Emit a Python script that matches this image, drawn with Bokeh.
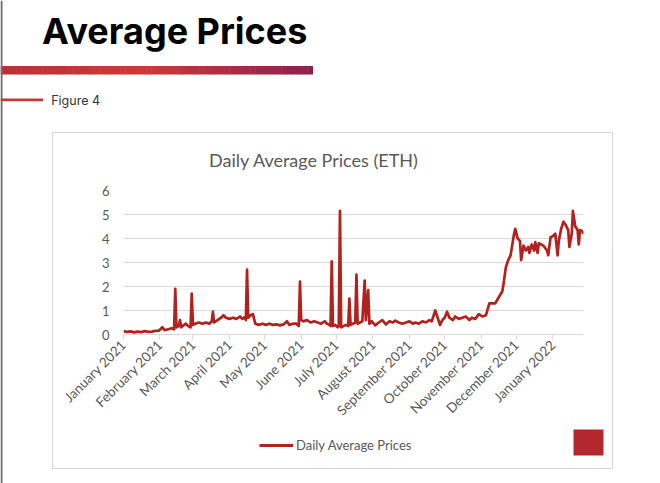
import math
from bokeh.plotting import figure
from bokeh.models import Range1d, Legend, LegendItem, FixedTicker, ColumnDataSource
from bokeh.core.properties import value
from bokeh.embed import file_html
from bokeh.resources import INLINE

# ---------------- data ----------------
# days since 1 January 2021
day_offsets = [
    0, 3, 6, 9, 12, 15, 18, 21, 24, 27, 30,
    33, 35, 38, 41, 43, 44, 45, 47, 48, 49, 51, 53, 55, 57, 58, 59, 61,
    64, 67, 70, 73, 75, 76, 77, 80, 83, 85, 87, 90,
    93, 96, 99, 101, 103, 104, 105, 106, 108, 110, 112, 115, 118,
    121, 124, 127, 130, 133, 136, 139, 141, 144, 147, 149, 150, 151, 153,
    156, 159, 162, 165, 168, 171, 173, 175, 176, 177, 178, 180, 182, 183, 184, 185,
    187, 189, 191, 192, 193, 195, 197, 198, 199, 201, 203, 205, 206, 208, 209, 211,
    214, 217, 220, 223, 226, 229, 231, 234, 237, 240, 243, 246, 248, 251, 254, 257, 260, 262,
    265, 267, 269, 271, 273, 275, 277, 280, 282, 285, 288, 291, 294, 296, 299, 302, 305, 308,
    311, 313, 316, 319, 322, 323, 325, 327, 329, 330, 332, 333, 335, 337, 338, 340, 342, 344,
    345, 347, 349, 350, 352, 353, 355, 357, 360, 361, 363, 365, 367, 369, 370, 372, 374, 376,
    378, 379, 381, 382, 384, 386, 387, 388, 390, 391,
]
avg_price_eth = [
    0.14, 0.11, 0.13, 0.09, 0.12, 0.10, 0.14, 0.11, 0.12, 0.15, 0.16,
    0.30, 0.18, 0.22, 0.26, 0.22, 1.90, 0.30, 0.35, 0.60, 0.30, 0.38, 0.45, 0.35, 0.30, 1.70, 0.40, 0.45,
    0.50, 0.45, 0.50, 0.45, 0.55, 0.95, 0.50, 0.60, 0.70, 0.80, 0.70, 0.65,
    0.70, 0.65, 0.75, 0.65, 0.72, 0.60, 2.70, 0.70, 0.80, 0.85, 0.45, 0.40, 0.45,
    0.40, 0.45, 0.40, 0.42, 0.38, 0.42, 0.55, 0.40, 0.45, 0.45, 0.35, 2.20, 0.60, 0.55,
    0.60, 0.50, 0.55, 0.50, 0.45, 0.55, 0.45, 0.40, 0.35, 3.05, 0.35, 0.40, 0.30, 0.35, 5.15, 0.30,
    0.35, 0.40, 0.35, 1.50, 0.40, 0.45, 0.50, 2.50, 0.45, 0.50, 0.55, 2.25, 0.60, 1.85, 0.45, 0.55,
    0.38, 0.50, 0.60, 0.42, 0.55, 0.50, 0.58, 0.50, 0.45, 0.50, 0.55, 0.45, 0.50, 0.45, 0.55, 0.50, 0.60, 0.55,
    1.00, 0.70, 0.40, 0.60, 0.70, 0.95, 0.70, 0.60, 0.75, 0.65, 0.70, 0.75, 0.60, 0.70, 0.65, 0.85, 0.75, 0.80,
    1.30, 1.30, 1.30, 1.55, 1.80, 2.10, 2.80, 3.10, 3.30, 3.60, 4.20, 4.40, 4.00, 3.90, 3.10, 3.70, 3.50, 3.65,
    3.40, 3.75, 3.50, 3.85, 3.40, 3.80, 3.75, 3.70, 3.50, 3.30, 4.05, 4.10, 4.20, 3.30, 3.90, 4.40, 4.70, 4.55,
    4.35, 3.65, 4.20, 5.15, 4.50, 4.35, 3.75, 4.35, 4.30, 4.20,
]
month_ticks = [0, 31, 59, 90, 120, 151, 181, 212, 243, 273, 304, 334, 365]
month_labels = ["January 2021", "February 2021", "March 2021", "April 2021", "May 2021",
                "June 2021", "July 2021", "August 2021", "September 2021", "October 2021",
                "November 2021", "December 2021", "January 2022"]
y_ticks = [0, 1, 2, 3, 4, 5, 6]
series_name = "Daily Average Prices"
chart_title = "Daily Average Prices (ETH)"
slide_title = "Average Prices"
figure_caption = "Figure 4"

GRAY = "#595959"
LIGHT = "#d9d9d9"
LINE_RED = "#b1221f"
W, H = 660, 483
PIN = {"position": "absolute", "top": "0px", "left": "0px"}

src = ColumnDataSource(data=dict(day=day_offsets, price=avg_price_eth))

# ---------------- slide layer (page pixel coordinates) ----------------
deco = figure(width=W, height=H, output_backend="svg", toolbar_location=None,
              x_range=Range1d(0, W), y_range=Range1d(H, 0),
              x_axis_location=None, y_axis_location=None, min_border=0)
deco.styles = dict(PIN)
deco.outline_line_color = None
deco.xgrid.grid_line_color = None
deco.ygrid.grid_line_color = None
deco.background_fill_color = "white"
deco.border_fill_color = "white"


def lerp(c1, c2, t):
    return tuple(round(a + (b - a) * t) for a, b in zip(c1, c2))


stops = [(0.0, (184, 49, 56)), (0.45, (205, 58, 54)), (1.0, (137, 34, 81))]
N = 60
x0, x1 = 0, 312
gl, gr, gc = [], [], []
for i in range(N):
    t = (i + 0.5) / N
    for (ta, ca), (tb, cb) in zip(stops[:-1], stops[1:]):
        if ta <= t <= tb:
            c = lerp(ca, cb, (t - ta) / (tb - ta))
            break
    gl.append(x0 + (x1 - x0) * i / N)
    gr.append(x0 + (x1 - x0) * (i + 1) / N + 0.5)
    gc.append("#%02x%02x%02x" % c)
deco.quad(left=gl, right=gr, top=65.5, bottom=74, fill_color=gc, line_color=None)
# left page edge line, caption rule, chart box, page marker
deco.quad(left=[0], right=[2], top=0, bottom=H, fill_color="#6b6b6b", line_color=None)
deco.quad(left=[0], right=[42.7], top=98, bottom=100.8, fill_color="#c23a3c", line_color=None)
deco.quad(left=[52], right=[612], top=132, bottom=468, fill_alpha=0,
          line_color=LIGHT, line_width=1.2)
deco.quad(left=[573], right=[603], top=429, bottom=455, fill_color="#b3282e", line_color=None)

deco.text(x=[41.5], y=[30], text=[slide_title], text_font=value("Inter"),
          text_font_style="bold", text_font_size=value("36px"), text_color="#000000",
          text_baseline="middle", text_align="left")
deco.text(x=[50.7], y=[99.5], text=[figure_caption], text_font=value("Inter"),
          text_font_size=value("12.5px"), text_color="#333333",
          text_baseline="middle", text_align="left")
deco.text(x=[313.5], y=[159], text=[chart_title], text_font=value("Lato"),
          text_font_size=value("18px"), text_color=GRAY,
          text_baseline="middle", text_align="center")

# legend: the swatch comes from a hidden copy of the series line on this layer
swatch = deco.line(x="day", y="price", source=src, line_color=LINE_RED, line_width=3,
                   visible=False)
legend = Legend(items=[LegendItem(label=series_name, renderers=[swatch])],
                location=(259, H - 439 - 14), orientation="horizontal",
                padding=0, margin=0, border_line_color=None, background_fill_alpha=0,
                glyph_width=34, glyph_height=14, label_height=14, label_standoff=3,
                label_text_font="Lato", label_text_font_size="13px",
                label_text_color=GRAY, click_policy="none")
deco.add_layout(legend)

# ---------------- chart layer (overlaid, transparent) ----------------
FL, FR, FT, FB = 123, 583, 190, 334   # plot frame on the page
p = figure(width=W, height=H, output_backend="svg", toolbar_location=None,
           x_range=Range1d(0, 391), y_range=Range1d(0, 6),
           min_border_left=FL, min_border_right=W - FR,
           min_border_top=FT, min_border_bottom=H - FB)
p.styles = dict(PIN)
p.outline_line_color = None
p.background_fill_alpha = 0
p.border_fill_alpha = 0

p.line(x="day", y="price", source=src, line_color=LINE_RED, line_width=2.7,
       line_join="round")

p.xaxis.ticker = FixedTicker(ticks=month_ticks)
p.xaxis.major_label_overrides = {t: l for t, l in zip(month_ticks, month_labels)}
p.xaxis.major_label_orientation = math.pi / 4
p.xaxis.axis_line_color = LIGHT
p.xaxis.major_tick_line_color = LIGHT
p.xaxis.major_tick_out = 5
p.xaxis.major_tick_in = 0
p.xaxis.minor_tick_line_color = None
p.xaxis.major_label_text_font = "Lato"
p.xaxis.major_label_text_font_size = "13.5px"
p.xaxis.major_label_text_color = GRAY
p.xaxis.major_label_standoff = 3

p.yaxis.ticker = FixedTicker(ticks=y_ticks)
p.yaxis.axis_line_color = None
p.yaxis.major_tick_line_color = None
p.yaxis.minor_tick_line_color = None
p.yaxis.major_tick_out = 0
p.yaxis.major_tick_in = 0
p.yaxis.major_label_text_font = "Lato"
p.yaxis.major_label_text_font_size = "13px"
p.yaxis.major_label_text_color = GRAY
p.yaxis.major_label_standoff = 14

p.xgrid.grid_line_color = None
p.ygrid.grid_line_color = LIGHT
p.ygrid.grid_line_width = 1.2

open("out.html", "w").write(file_html([deco, p], INLINE))
